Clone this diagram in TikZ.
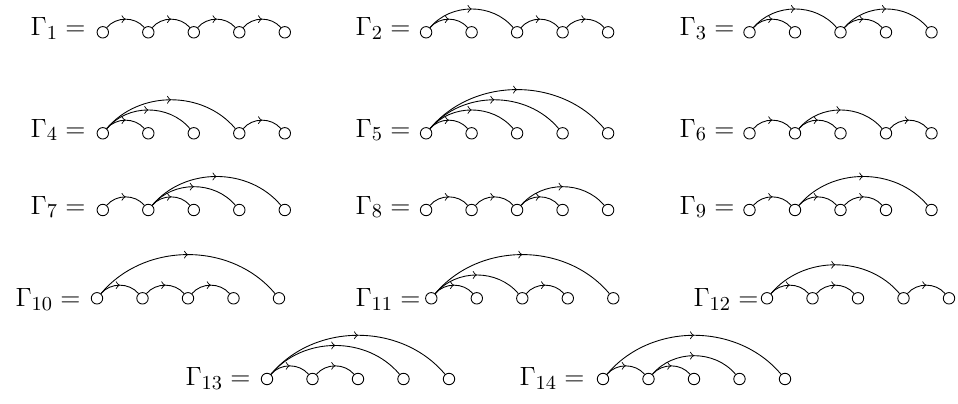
\documentclass[tikz,border=0pt]{standalone}
\usetikzlibrary{decorations.markings}
\tikzset{
  vtx/.style={circle,draw,minimum size=5.2pt,inner sep=0pt},
  lbl/.style={anchor=base east,inner sep=0pt,font=\fontsize{12.8}{15}\selectfont},
  edge/.style={postaction={decorate},decoration={markings,mark=at position 0.5 with {\arrow{>}}}}
}
% #1 id, #2 x of first vertex, #3 y of vertices, #4 label right x, #5 label baseline y, #6 edges
\newcommand\mktree[6]{%
  \foreach \i in {1,...,5} \node[vtx] (g#1-\i) at ({#2+(\i-1)*45.5},#3) {};
  \node[lbl] (g#1-lab) at (#4,#5) {$\Gamma_{#1} =$};
  \foreach \a/\b in {#6} \draw[edge] (g#1-\a) to[out=50,in=130] (g#1-\b);
}
\begin{document}
\begin{tikzpicture}[x=0.4545pt,y=0.4545pt]
\useasboundingbox (0,0) rectangle (958,403);
% row 1
\mktree{1}{102.8}{370.7}{86}{367}{1/2,2/3,3/4,4/5}
\mktree{2}{426.1}{370.7}{411}{367}{1/2,1/3,3/4,4/5}
\mktree{3}{749.5}{370.7}{735}{367}{1/2,1/3,3/4,3/5}
% row 2
\mktree{4}{102.8}{269.7}{86}{266}{1/2,1/3,1/4,4/5}
\mktree{5}{426.1}{269.7}{411}{266}{1/2,1/3,1/4,1/5}
\mktree{6}{749.5}{269.7}{735}{266}{1/2,2/3,2/4,4/5}
% row 3
\mktree{7}{102.8}{193}{86}{189}{1/2,2/3,2/4,2/5}
\mktree{8}{426.1}{193}{411}{189}{1/2,2/3,3/4,3/5}
\mktree{9}{749.5}{193}{735}{189}{1/2,2/3,3/4,2/5}
% row 4
\mktree{10}{97}{104.7}{81}{96.5}{1/2,2/3,3/4,1/5}
\mktree{11}{431.3}{104.7}{421}{96.5}{1/2,1/3,3/4,1/5}
\mktree{12}{767}{104.7}{759}{96.5}{1/2,2/3,1/4,4/5}
% row 5
\mktree{13}{267}{24}{251}{17.5}{1/2,2/3,1/4,1/5}
\mktree{14}{603}{24}{585}{17.5}{1/2,2/3,2/4,1/5}
\end{tikzpicture}
\end{document}
